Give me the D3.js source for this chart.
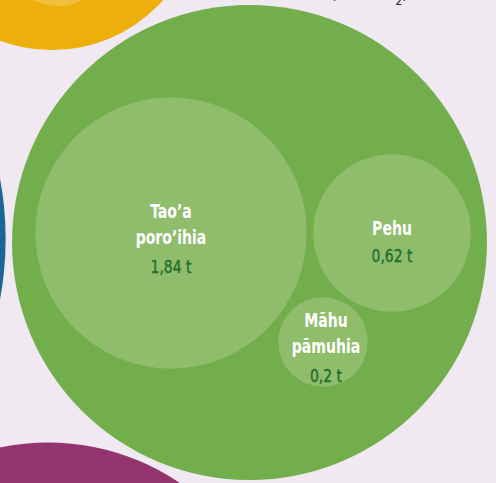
<!DOCTYPE html>
<html>
<head>
<meta charset="utf-8">
<script src="https://cdn.jsdelivr.net/npm/d3@7"></script>
<style>
  html, body { margin: 0; padding: 0; background: #f0e9f2; overflow: hidden; }
  svg { display: block; }
  text { font-family: "DejaVu Sans", sans-serif; font-stretch: condensed; }
  .lbl { font-weight: bold; fill: #fff; font-size: 19.5px; }
  .val { fill: #1f6e2c; stroke: #1f6e2c; stroke-width: 0.35px; font-size: 18px; }
  .top { fill: #222; font-size: 17px; }
</style>
</head>
<body>
<div id="chart"></div>
<script>
// tonnes per category
var parts = ['Tao\u2019a poro\u2019ihia', 'Pehu', 'M\u0101hu p\u0101muhia']
var partValues = [1.84, 0.62, 0.2]
var partText = ['1,84 t', '0,62 t', '0,2 t']
var partLines = [['Tao\u2019a', 'poro\u2019ihia'], ['Pehu'], ['M\u0101hu', 'p\u0101muhia']]
var totalValue = 5.64

// neighbouring bubbles, only partly in view
var others = ['yellow', 'blue', 'purple']
var otherValues = [2.22, 10.8, 5.5]
var yellowInner = 0.3

var w = 496, h = 483

var r = d3.scaleSqrt().domain([0, 1]).range([0, 100])

// layout: centres of bubbles
var mainCentre = [249.5, 242.5]
var partCentres = [[171, 233], [392, 233], [323, 342]]
var otherCentres = [[52, -99], [-323, 239], [48, 677]]
var otherColors = ['#edaf0c', '#1b6697', '#93336f']

var svg = d3.select('#chart').append('svg')
  .attr('width', w)
  .attr('height', h)

svg.append('rect')
  .attr('width', w)
  .attr('height', h)
  .attr('fill', '#f0e9f2')

svg.selectAll('.other')
  .data(otherValues)
  .enter().append('circle')
  .attr('class', 'other')
  .attr('cx', function(d, i) { return otherCentres[i][0] })
  .attr('cy', function(d, i) { return otherCentres[i][1] })
  .attr('r', function(d) { return r(d) })
  .attr('fill', function(d, i) { return otherColors[i] })

// lighter sub bubble of the yellow one
svg.append('circle')
  .attr('cx', 58)
  .attr('cy', 6 - r(yellowInner))
  .attr('r', r(yellowInner))
  .attr('fill', '#f0bf40')

svg.append('circle')
  .attr('cx', mainCentre[0])
  .attr('cy', mainCentre[1])
  .attr('r', r(totalValue))
  .attr('fill', '#72ae4b')

var g = svg.selectAll('.part')
  .data(partValues)
  .enter().append('g')
  .attr('class', 'part')
  .attr('transform', function(d, i) { return 'translate(' + partCentres[i] + ')' })

g.append('circle')
  .attr('r', function(d) { return r(d) })
  .attr('fill', '#8fbd6c')

// squeeze the text a bit, the original face is a narrow one
g.each(function(d, i) {
  var lines = partLines[i]
  var el = d3.select(this)
  var y0 = lines.length == 2 ? -15 : 2
  var dx = i == 2 ? 3 : 0
  var lab = el.append('g').attr('transform', 'translate(' + dx + ',0) scale(0.8,1)')
  lines.forEach(function(l, j) {
    lab.append('text')
      .attr('class', 'lbl')
      .attr('text-anchor', 'middle')
      .attr('y', y0 + j * 26)
      .text(l)
  })
  el.append('g').attr('transform', 'translate(' + dx + ',0) scale(0.86,1)')
    .append('text')
    .attr('class', 'val')
    .attr('text-anchor', 'middle')
    .attr('y', y0 + (lines.length - 1) * 26 + (lines.length == 2 ? 29 : 27))
    .text(partText[i])
})

// caption of the big bubble, mostly cut off above the view
var cap = svg.append('text')
  .attr('class', 'top')
  .attr('x', 323)
  .attr('y', -1)
cap.append('tspan').text('5,64 t CO')
cap.append('tspan').attr('dy', 6).attr('font-size', 12).text('2')
cap.append('tspan').attr('dy', -6).text(', ')
</script>
</body>
</html>
